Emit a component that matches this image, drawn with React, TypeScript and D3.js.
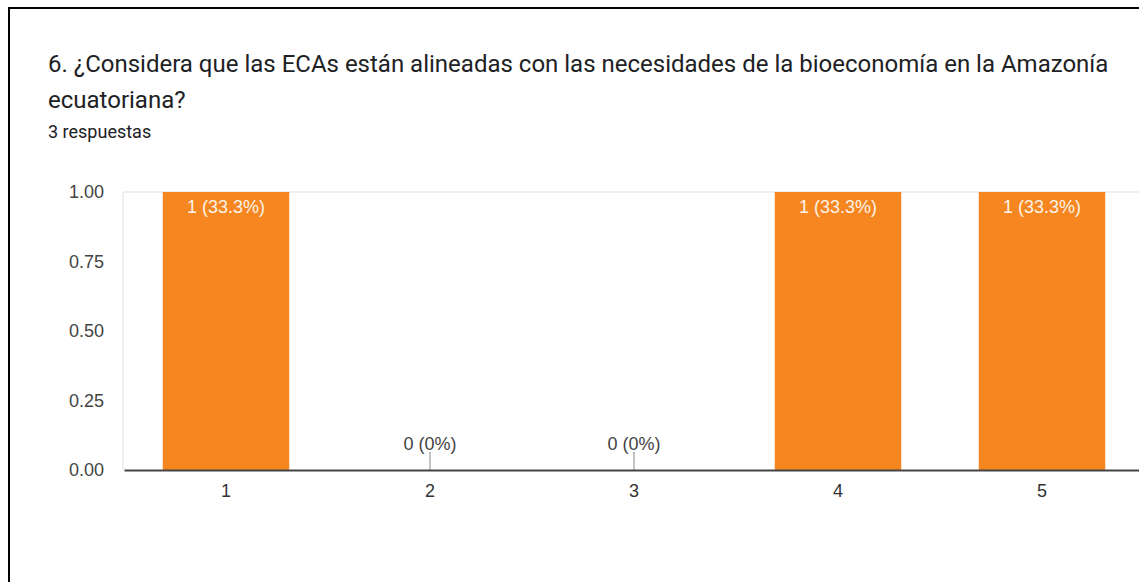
import { useRef, useEffect } from "react";
import * as d3 from "d3";

const categories = ["1", "2", "3", "4", "5"];
const counts = [1, 0, 0, 1, 1];
const barLabels = ["1 (33.3%)", "0 (0%)", "0 (0%)", "1 (33.3%)", "1 (33.3%)"];
const yTicks = [0, 0.25, 0.5, 0.75, 1];

const titleLines = [
    "6. ¿Considera que las ECAs están alineadas con las necesidades de la bioeconomía en la Amazonía",
    "ecuatoriana?",
];
const subtitle = "3 respuestas";

const width = 1139;
const height = 582;

export default function App() {
    const svgRef = useRef<SVGSVGElement | null>(null);

    useEffect(() => {
        document.body.style.margin = "0";
        if (!svgRef.current) return;
        const svg = d3.select(svgRef.current);
        svg.selectAll("*").remove();

        const plot = { left: 123, right: 1144, top: 192, bottom: 470 };

        svg.append("rect").attr("width", width).attr("height", height).attr("fill", "#fff");

        // screenshot frame (top + left edge)
        svg.append("line").attr("x1", 8).attr("x2", width).attr("y1", 8).attr("y2", 8)
            .attr("stroke", "#000").attr("stroke-width", 2);
        svg.append("line").attr("x1", 9).attr("x2", 9).attr("y1", 7).attr("y2", height)
            .attr("stroke", "#000").attr("stroke-width", 2);

        // title
        const title = svg.append("g").attr("font-family", "Roboto").attr("fill", "#202124");
        titleLines.forEach((t, i) => {
            title.append("text").attr("x", 48).attr("y", 72 + i * 36).attr("font-size", 24).text(t);
        });
        title.append("text").attr("x", 48).attr("y", 138).attr("font-size", 18).text(subtitle);

        const x = d3.scaleBand()
            .domain(categories)
            .range([plot.left + 1, plot.right])
            .paddingInner(0.38)
            .paddingOuter(0.19);

        const y = d3.scaleLinear().domain([0, 1]).range([plot.bottom, plot.top]);

        // light frame lines of plot area
        svg.append("line").attr("x1", plot.left).attr("x2", plot.right)
            .attr("y1", y(1)).attr("y2", y(1)).attr("stroke", "#ebebeb").attr("stroke-width", 1.5);
        svg.append("line").attr("x1", plot.left).attr("x2", plot.left)
            .attr("y1", y(1)).attr("y2", y(0)).attr("stroke", "#ebebeb").attr("stroke-width", 1.5);

        const data = categories.map((c, i) => ({ c, v: counts[i], label: barLabels[i] }));

        // bars
        svg.append("g").selectAll("rect")
            .data(data.filter(d => d.v > 0))
            .enter()
            .append("rect")
            .attr("x", d => x(d.c)!)
            .attr("width", x.bandwidth())
            .attr("y", d => y(d.v))
            .attr("height", d => y(0) - y(d.v))
            .attr("fill", "#f6861f");

        // zero-value stems
        svg.append("g").selectAll("line")
            .data(data.filter(d => d.v === 0))
            .enter()
            .append("line")
            .attr("x1", d => x(d.c)! + x.bandwidth() / 2)
            .attr("x2", d => x(d.c)! + x.bandwidth() / 2)
            .attr("y1", y(0))
            .attr("y2", y(0) - 18)
            .attr("stroke", "#999")
            .attr("stroke-width", 1.2);

        // value labels
        svg.append("g").attr("font-family", "Liberation Sans, Arial").attr("font-size", 18)
            .attr("text-anchor", "middle")
            .selectAll("text")
            .data(data)
            .enter()
            .append("text")
            .attr("x", d => x(d.c)! + x.bandwidth() / 2)
            .attr("y", d => (d.v > 0 ? y(d.v) + 21 : y(0) - 20))
            .attr("fill", d => (d.v > 0 ? "#fdf3ea" : "#444"))
            .text(d => d.label);

        // y axis labels
        const yAxis = svg.append("g")
            .attr("transform", `translate(${plot.left},0)`)
            .call(d3.axisLeft(y).tickValues(yTicks).tickFormat(d3.format(".2f")).tickSize(0).tickPadding(19));
        yAxis.select(".domain").remove();
        yAxis.selectAll("text")
            .attr("font-family", "Liberation Sans, Arial").attr("font-size", 18).attr("fill", "#444");

        // x axis
        const xAxis = svg.append("g")
            .attr("transform", `translate(0,${plot.bottom})`)
            .call(d3.axisBottom(x).tickSize(0).tickPadding(14));
        xAxis.select(".domain").attr("stroke", "#444").attr("stroke-width", 2);
        xAxis.selectAll("text")
            .attr("font-family", "Liberation Sans, Arial").attr("font-size", 18).attr("fill", "#333");
    }, []);

    return <svg ref={svgRef} width={width} height={height} style={{ display: "block" }} />;
}
